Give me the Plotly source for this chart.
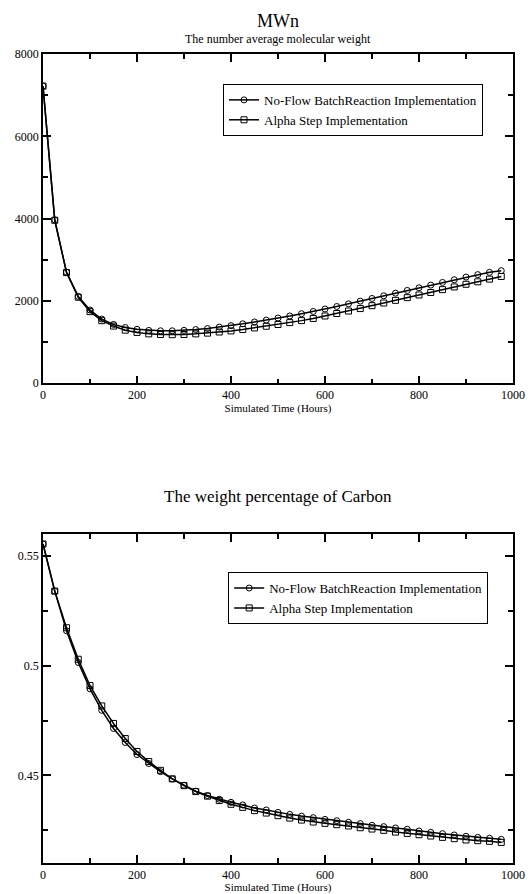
import plotly.graph_objects as go

time_h = [0, 25, 50, 75, 100, 125, 150, 175, 200, 225, 250, 275, 300, 325, 350, 375, 400,
          425, 450, 475, 500, 525, 550, 575, 600, 625, 650, 675, 700, 725, 750, 775, 800,
          825, 850, 875, 900, 925, 950, 975]

mwn_noflow = [7220, 3970, 2700, 2110, 1780, 1560, 1430, 1355, 1310, 1285, 1275, 1275, 1285,
              1305, 1330, 1365, 1400, 1445, 1490, 1535, 1585, 1635, 1690, 1745, 1805, 1865,
              1930, 1995, 2060, 2125, 2190, 2255, 2320, 2385, 2450, 2515, 2580, 2640, 2695, 2735]
mwn_alpha = [7220, 3960, 2690, 2090, 1740, 1520, 1390, 1290, 1235, 1200, 1185, 1180, 1185,
             1200, 1218, 1245, 1272, 1305, 1345, 1385, 1428, 1474, 1522, 1575, 1635, 1695,
             1755, 1815, 1885, 1950, 2015, 2080, 2145, 2205, 2275, 2340, 2405, 2465, 2530, 2595]

carbon_noflow = [0.5556, 0.5341, 0.5160, 0.5015, 0.4895, 0.4797, 0.4714, 0.4650, 0.4595,
                 0.4554, 0.4517, 0.4484, 0.4455, 0.4428, 0.4408, 0.4391, 0.4377, 0.4365,
                 0.4351, 0.4342, 0.4331, 0.4322, 0.4314, 0.4307, 0.4299, 0.4293, 0.4286,
                 0.4280, 0.4272, 0.4266, 0.4260, 0.4254, 0.4246, 0.4240, 0.4234, 0.4228,
                 0.4222, 0.4217, 0.4213, 0.4208]
carbon_alpha = [0.5556, 0.5341, 0.5174, 0.5030, 0.4910, 0.4817, 0.4737, 0.4668, 0.4609,
                0.4563, 0.4523, 0.4484, 0.4453, 0.4426, 0.4405, 0.4385, 0.4368, 0.4354,
                0.4339, 0.4328, 0.4316, 0.4305, 0.4296, 0.4287, 0.4281, 0.4275, 0.4269,
                0.4261, 0.4255, 0.4249, 0.4241, 0.4235, 0.4229, 0.4223, 0.4217, 0.4211,
                0.4205, 0.4202, 0.4199, 0.4194]

series_names = ["No-Flow BatchReaction Implementation", "Alpha Step Implementation"]

FONT = "Liberation Serif"

fig = go.Figure()

def add(x, y, name, symbol, xa, ya, legend):
    fig.add_trace(go.Scatter(
        x=x, y=y, name=name, mode="lines+markers",
        line=dict(color="black", width=1.5),
        marker=dict(symbol=symbol, size=6, color="black", line=dict(color="black", width=1)),
        xaxis=xa, yaxis=ya, legend=legend, showlegend=True))

add(time_h, mwn_noflow, series_names[0], "circle-open", "x", "y", "legend")
add(time_h, mwn_alpha, series_names[1], "square-open", "x", "y", "legend")
add(time_h, carbon_noflow, series_names[0], "circle-open", "x2", "y2", "legend2")
add(time_h, carbon_alpha, series_names[1], "square-open", "x2", "y2", "legend2")

axis_common = dict(
    showline=True, linecolor="black", linewidth=1.5, mirror="ticks",
    ticks="inside", ticklen=8, tickwidth=1.5, tickcolor="black",
    showgrid=False, zeroline=False, automargin=False,
    tickfont=dict(family=FONT, size=12, color="black"),
)

xaxis_common = dict(axis_common, range=[0, 1000], tickvals=[0, 200, 400, 600, 800, 1000],
                    minor=dict(ticks="inside", ticklen=5, tickwidth=1.5, tickcolor="black",
                               tickvals=[100, 300, 500, 700, 900]),
                    title=dict(text="Simulated Time (Hours)",
                               font=dict(family=FONT, size=11, color="black"),
                               standoff=0))

top_dom = [0.593, 1.0]
bot_dom = [0.0, 0.4062]

legend_common = dict(xanchor="left", yanchor="top",
                     bordercolor="black", borderwidth=1, bgcolor="white",
                     font=dict(family=FONT, size=13, color="black"),
                     tracegroupgap=0, itemwidth=30)

fig.update_layout(
    template="none",
    width=530, height=894,
    margin=dict(l=43, r=17, t=54, b=31, autoexpand=False),
    paper_bgcolor="white", plot_bgcolor="white",
    font=dict(family=FONT, color="black"),
    xaxis=dict(xaxis_common, domain=[0, 1], anchor="y"),
    yaxis=dict(axis_common, domain=top_dom, anchor="x", range=[0, 8000],
               tickvals=[0, 2000, 4000, 6000, 8000],
               minor=dict(ticks="inside", ticklen=5, tickwidth=1.5, tickcolor="black",
                          tickvals=[1000, 3000, 5000, 7000])),
    xaxis2=dict(xaxis_common, domain=[0, 1], anchor="y2"),
    yaxis2=dict(axis_common, domain=bot_dom, anchor="x2", range=[0.41, 0.56],
                tickvals=[0.45, 0.5, 0.55], ticktext=["0.45", "0.5", "0.55"],
                minor=dict(ticks="inside", ticklen=5, tickwidth=1.5, tickcolor="black",
                           tickvals=[0.425, 0.475, 0.525])),
    legend=dict(legend_common, x=0.383, y=0.963),
    legend2=dict(legend_common, x=0.394, y=0.3596),
)

def pix_to_paper_y(py):
    return (894 - 31 - py) / (894 - 54 - 31)

fig.add_annotation(text="MWn", x=0.5, y=pix_to_paper_y(21), xref="paper", yref="paper",
                   showarrow=False, yanchor="middle",
                   font=dict(family=FONT, size=18, color="black"))
fig.add_annotation(text="The number average molecular weight", x=0.5, y=pix_to_paper_y(39),
                   xref="paper", yref="paper", showarrow=False, yanchor="middle",
                   font=dict(family=FONT, size=12, color="black"))
fig.add_annotation(text="The weight percentage of Carbon", x=0.5, y=pix_to_paper_y(496),
                   xref="paper", yref="paper", showarrow=False, yanchor="middle",
                   font=dict(family=FONT, size=17, color="black"))

fig.write_html("out.html")
